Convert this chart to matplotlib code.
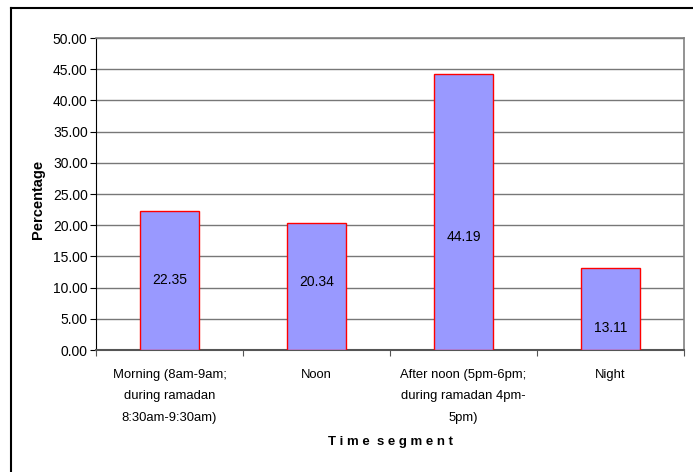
import matplotlib
matplotlib.use("Agg")
import matplotlib.pyplot as plt
from matplotlib.lines import Line2D

plt.rcParams['font.family'] = ['Liberation Sans', 'DejaVu Sans']

categories = [
    "Morning (8am-9am;\nduring ramadan\n8:30am-9:30am)",
    "Noon",
    "After noon (5pm-6pm;\nduring ramadan 4pm-\n5pm)",
    "Night",
]
percentages = [22.35, 20.34, 44.19, 13.11]
yticks = [0, 5, 10, 15, 20, 25, 30, 35, 40, 45, 50]
# vertical anchors for the value annotations
label_y = [11.2, 10.9, 18.1, 3.5]

fig = plt.figure(figsize=(6.93, 4.72), dpi=100)
W, H = 693, 472
ax = fig.add_axes([96 / W, 1 - 350 / H, (684 - 96) / W, (350 - 38) / H])

x = list(range(len(categories)))
ax.bar(x, percentages, width=0.4, color='#9999FF', edgecolor='#FF0000',
       linewidth=1.0, zorder=3)
for xi, v, ly in zip(x, percentages, label_y):
    ax.text(xi, ly, f"{v:.2f}", ha='center', va='center', fontsize=10,
            color='black', zorder=4)

ax.set_xlim(-0.5, len(categories) - 0.5)
ax.set_ylim(0, 50)
ax.set_yticks(yticks)
ax.set_yticklabels([f"{t:.2f}" for t in yticks], fontsize=10)
ax.yaxis.grid(True, color='#777777', linewidth=1.0, zorder=0)
ax.set_axisbelow(True)

# category labels between boundary ticks
ax.set_xticks([i + 0.5 for i in range(-1, len(categories))])
ax.set_xticklabels([])
ax.tick_params(axis='x', length=4, color='#555555', direction='out')
ax.tick_params(axis='y', length=4, color='black', direction='out', pad=2)
for xi, lab in zip(x, categories):
    ax.text(xi, -0.06, lab, transform=ax.get_xaxis_transform(),
            ha='center', va='top', fontsize=9.4, linespacing=2.05)

for s in ('top', 'right'):
    ax.spines[s].set_color('#808080')
    ax.spines[s].set_linewidth(1.2)
ax.spines['left'].set_color('black')
ax.spines['bottom'].set_color('#555555')
ax.spines['bottom'].set_linewidth(1.5)

fig.text(38 / W, 1 - 199 / H, "Percentage", rotation=90, ha='center',
         va='center', fontsize=10.5, fontweight='bold')
fig.text(391 / W, 1 - 442 / H, "T i m e  s e g m e n t",
         ha='center', va='center', fontsize=9.5, fontweight='bold')

# outer chart border (left and top edges in view)
fig.add_artist(Line2D([10.5 / W, 10.5 / W], [0, 1 - 7.5 / H],
                      transform=fig.transFigure, color='black', linewidth=1.5))
fig.add_artist(Line2D([10.5 / W, 1], [1 - 7.5 / H, 1 - 7.5 / H],
                      transform=fig.transFigure, color='black', linewidth=1.5))

fig.savefig("out.png", dpi=100)
